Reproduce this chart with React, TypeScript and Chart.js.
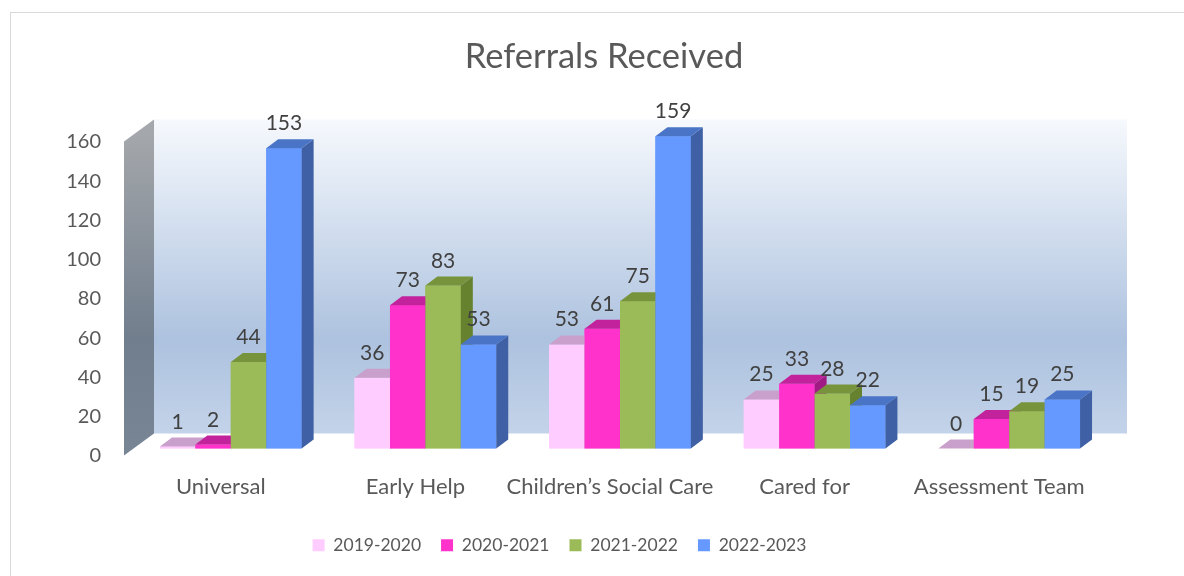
import React, { useEffect, useRef } from "react";
import { Chart, registerables } from "chart.js";

Chart.register(...registerables);

// ---- data ----
const categories = ["Universal", "Early Help", "Children’s Social Care", "Cared for", "Assessment Team"];
const seriesNames = ["2019-2020", "2020-2021", "2021-2022", "2022-2023"];
const values2019 = [1, 36, 53, 25, 0];
const values2020 = [2, 73, 61, 33, 15];
const values2021 = [44, 83, 75, 28, 19];
const values2022 = [153, 53, 159, 22, 25];
const yMin = 0;
const yMax = 160;
const yStep = 20;

// ---- styles ----
const frontColors = ["#FFCCFF", "#FF33CC", "#9BBB59", "#6699FF"];
const topColors = ["#C99FCB", "#C2229C", "#77933C", "#4A74C6"];
const sideColors = ["#B58DB7", "#A11B84", "#66822F", "#3F60A4"];
const FONT = "Lato, 'Open Sans', sans-serif";

// 3D geometry (pixels)
const BAR_DX = 12;
const BAR_DY = 9;
const BACK_DX = 20.5;
const BACK_DY = 15;
const FRONT_DX = 9.5;
const FRONT_DY = 7;

const threeDPlugin = {
  id: "threeD",
  beforeDraw(chart: any) {
    const ctx = chart.ctx;
    ctx.save();
    ctx.strokeStyle = "#D9D9D9";
    ctx.lineWidth = 1;
    ctx.strokeRect(10.5, 12.5, 1400, 800);
    ctx.restore();
  },
  afterLayout(chart: any) {
    const t = chart.titleBlock;
    if (t) {
      t.left = 0;
      t.right = 1208;
    }
  },
  beforeDatasetsDraw(chart: any) {
    const { ctx, chartArea } = chart;
    const { left, right, top, bottom } = chartArea;
    ctx.save();
    // back wall
    const bx0 = left + BACK_DX, bx1 = right + BACK_DX;
    const by0 = top - BACK_DY, by1 = bottom - BACK_DY;
    const g = ctx.createLinearGradient(0, by0, 0, by1);
    g.addColorStop(0, "#F6F9FD");
    g.addColorStop(0.7, "#ADC2DF");
    g.addColorStop(1, "#C3D3E9");
    ctx.fillStyle = g;
    ctx.fillRect(bx0, by0, bx1 - bx0, by1 - by0);
    // side wall
    const g2 = ctx.createLinearGradient(0, top, 0, bottom);
    g2.addColorStop(0, "#A4A7AB");
    g2.addColorStop(0.65, "#717E8D");
    g2.addColorStop(1, "#788594");
    ctx.fillStyle = g2;
    ctx.beginPath();
    ctx.moveTo(left - FRONT_DX, top + FRONT_DY);
    ctx.lineTo(left + BACK_DX, top - BACK_DY);
    ctx.lineTo(left + BACK_DX, bottom - BACK_DY);
    ctx.lineTo(left - FRONT_DX, bottom + FRONT_DY);
    ctx.closePath();
    ctx.fill();
    ctx.restore();
  },
  afterDatasetsDraw(chart: any) {
    const ctx = chart.ctx;
    const nCat = categories.length;
    const nSer = chart.data.datasets.length;
    ctx.save();
    for (let i = 0; i < nCat; i++) {
      for (let d = 0; d < nSer; d++) {
        const el = chart.getDatasetMeta(d).data[i];
        if (!el) continue;
        const p = el.getProps(["x", "y", "base", "width"], true);
        const l = p.x - p.width / 2;
        const r = p.x + p.width / 2;
        const t = Math.min(p.y, p.base);
        const b = p.base;
        // front
        ctx.fillStyle = frontColors[d];
        ctx.fillRect(l, t, r - l, b - t);
        // right side
        ctx.fillStyle = sideColors[d];
        ctx.beginPath();
        ctx.moveTo(r, t);
        ctx.lineTo(r + BAR_DX, t - BAR_DY);
        ctx.lineTo(r + BAR_DX, b - BAR_DY);
        ctx.lineTo(r, b);
        ctx.closePath();
        ctx.fill();
        // top
        ctx.fillStyle = topColors[d];
        ctx.beginPath();
        ctx.moveTo(l, t);
        ctx.lineTo(r, t);
        ctx.lineTo(r + BAR_DX, t - BAR_DY);
        ctx.lineTo(l + BAR_DX, t - BAR_DY);
        ctx.closePath();
        ctx.fill();
      }
    }
    // data labels
    ctx.font = `21px ${FONT}`;
    ctx.fillStyle = "#404040";
    ctx.textAlign = "center";
    ctx.textBaseline = "alphabetic";
    for (let d = 0; d < nSer; d++) {
      const meta = chart.getDatasetMeta(d);
      const vals = chart.data.datasets[d].data;
      meta.data.forEach((el: any, i: number) => {
        const p = el.getProps(["x", "y"], true);
        ctx.fillText(String(vals[i]), p.x, p.y - 18);
      });
    }
    ctx.restore();
  },
};

export default function App() {
  const ref = useRef<HTMLCanvasElement | null>(null);
  useEffect(() => {
    if (!ref.current) return;
    const seriesValues = [values2019, values2020, values2021, values2022];
    const chart = new Chart(ref.current, {
      type: "bar",
      data: {
        labels: categories,
        datasets: seriesNames.map((name, k) => ({
          label: name,
          data: seriesValues[k],
          backgroundColor: frontColors[k],
          borderWidth: 0,
          barPercentage: 1,
          categoryPercentage: 0.728,
        })),
      },
      options: {
        responsive: false,
        maintainAspectRatio: false,
        animation: false,
        layout: { padding: { left: 0, right: 65, top: 0, bottom: 12 } },
        scales: {
          x: {
            grid: { display: false, drawTicks: false },
            border: { display: false },
            ticks: {
              font: { family: FONT, size: 22 },
              color: "#595959",
              padding: 25.5,
              labelOffset: -10,
              maxRotation: 0,
              autoSkip: false,
            },
            afterFit: (s: any) => {
              s.height = 68;
            },
          },
          y: {
            min: yMin,
            max: yMax,
            grid: { display: false, drawTicks: false },
            border: { display: false },
            ticks: {
              stepSize: yStep,
              font: { family: FONT, size: 20 },
              color: "#595959",
              padding: 32.5,
              labelOffset: 7.5,
            },
            afterFit: (s: any) => {
              s.width = 133.5;
            },
          },
          yRight: {
            type: "linear",
            position: "right",
            display: true,
            grid: { display: false, drawTicks: false },
            border: { display: false },
            ticks: { display: false },
            afterFit: (s: any) => {
              s.width = 12.5;
            },
          },
        },
        plugins: {
          title: {
            display: true,
            text: "Referrals Received",
            color: "#595959",
            font: { family: FONT, size: 34.5, weight: "normal" },
            padding: { top: 36, bottom: 57 },
          },
          legend: {
            display: true,
            position: "bottom",
            labels: {
              font: { family: FONT, size: 17.5 },
              color: "#595959",
              boxWidth: 12,
              boxHeight: 12,
              padding: 20,
            },
          },
          tooltip: { enabled: false },
        },
      } as any,
      plugins: [threeDPlugin],
    });
    return () => chart.destroy();
  }, []);
  return (
    <div style={{ position: "fixed", left: 0, top: 0, width: 1184, height: 576, background: "#fff" }}>
      <canvas ref={ref} width={1184} height={576} />
    </div>
  );
}
